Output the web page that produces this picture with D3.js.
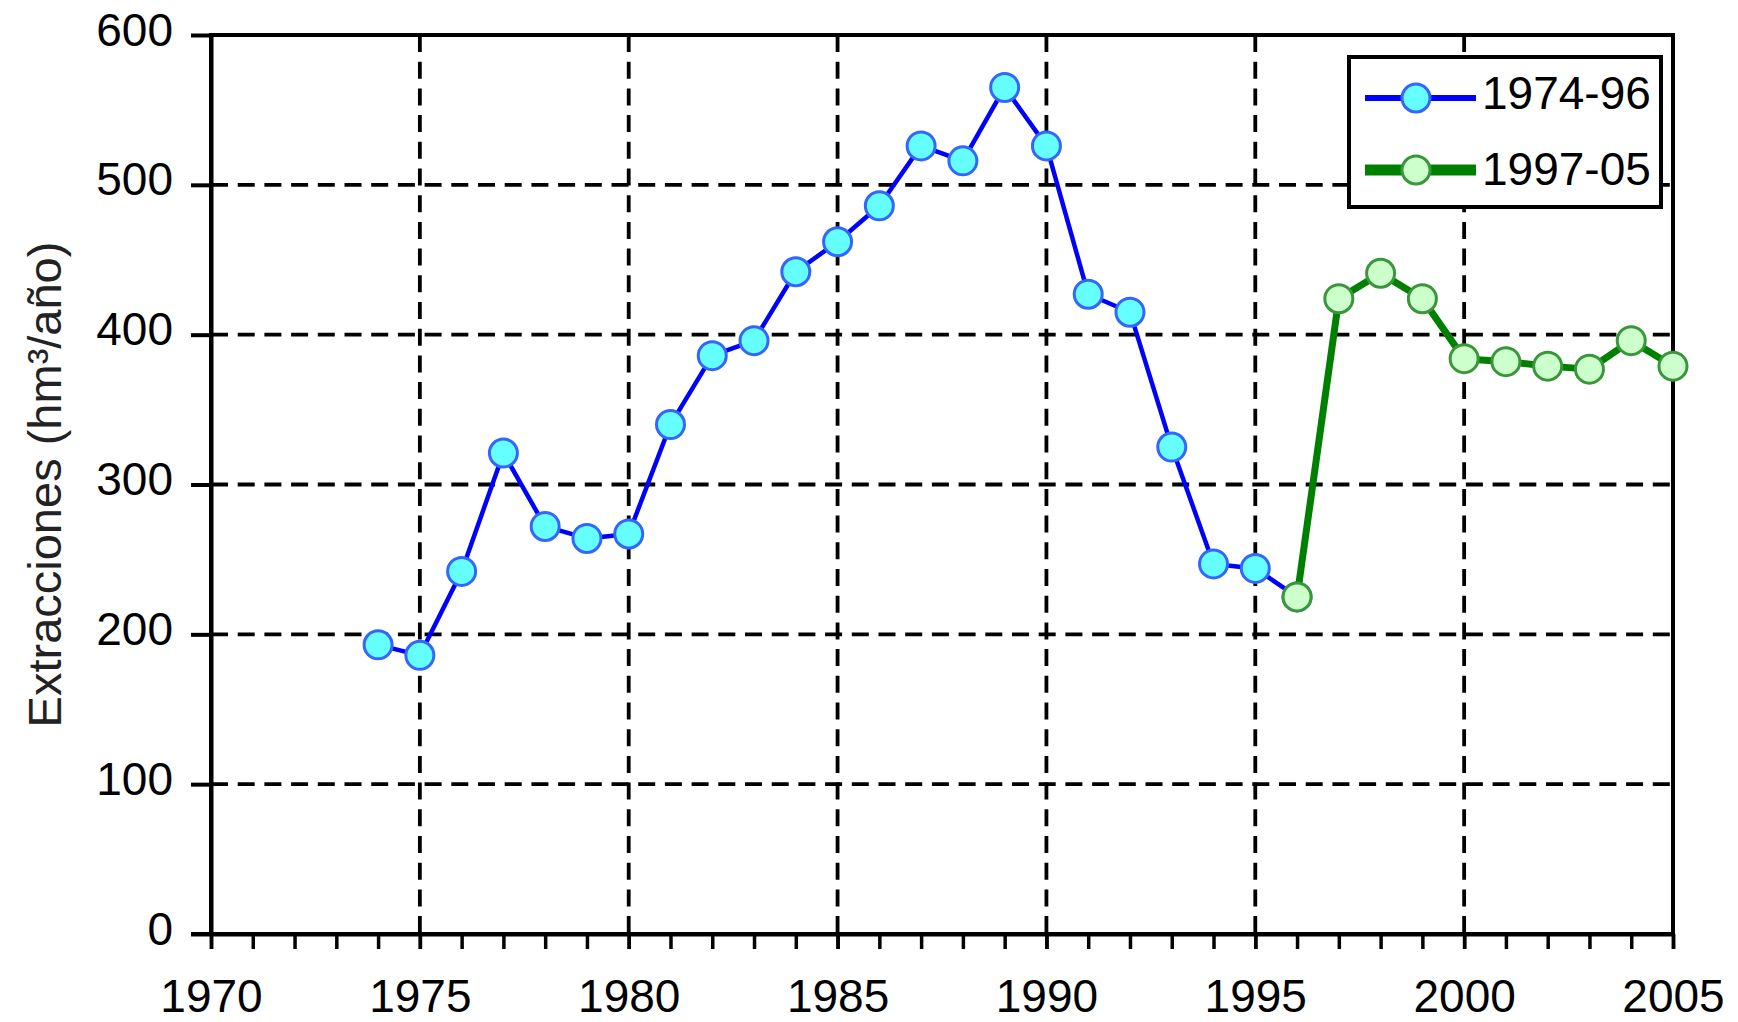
<!DOCTYPE html>
<html>
<head>
<meta charset="utf-8">
<script src="https://cdn.jsdelivr.net/npm/d3@7"></script>
<style>
  html, body { margin: 0; padding: 0; background: #fff; }
  svg { display: block; }
  text { font-family: "Liberation Sans", Arial, sans-serif; }
</style>
</head>
<body>
<svg id="chart" width="1738" height="1022"></svg>
<script>
// ---- data ----
const blueYears  = [1974,1975,1976,1977,1978,1979,1980,1981,1982,1983,1984,1985,1986,1987,1988,1989,1990,1991,1992,1993,1994,1995,1996];
const blueValues = [193, 186, 242, 321, 272, 264, 267, 340, 386, 396, 442, 462, 486, 526, 516, 565, 526, 427, 415, 325, 247, 244, 225];
const greenYears  = [1996,1997,1998,1999,2000,2001,2002,2003,2004,2005];
const greenValues = [225, 424, 441, 424, 384, 382, 379, 377, 396, 379];
const seriesNames = ["1974-96", "1997-05"];
const xTickLabels = [1970,1975,1980,1985,1990,1995,2000,2005];
const xMinorTicks = d3.range(1970, 2006, 1);
const yTickLabels = [0,100,200,300,400,500,600];
const yAxisTitle = "Extracciones (hm³/año)";

// ---- layout ----
const svg = d3.select("#chart");
const L = 211, R = 1673, T = 35, B = 934;
const x = d3.scaleLinear().domain([1970, 2005]).range([L, R]);
const y = d3.scaleLinear().domain([0, 600]).range([B, T]);
const FONT = 46;

// grid
const grid = svg.append("g");
grid.selectAll("line.h").data(yTickLabels.filter(v => v > 0 && v < 600)).join("line")
  .attr("x1", L).attr("x2", R).attr("y1", d => y(d)).attr("y2", d => y(d))
  .attr("stroke", "#000").attr("stroke-width", 3.8).attr("stroke-dasharray", "17,9.7");
grid.selectAll("line.v").data(xTickLabels.filter(v => v > 1970 && v < 2005)).join("line")
  .attr("x1", d => x(d)).attr("x2", d => x(d)).attr("y1", T).attr("y2", B)
  .attr("stroke", "#000").attr("stroke-width", 3.8).attr("stroke-dasharray", "17,9.7");

// frame
svg.append("rect").attr("x", L).attr("y", T).attr("width", R - L).attr("height", B - T)
  .attr("fill", "none").attr("stroke", "#000").attr("stroke-width", 4);

// axes
const yAxis = svg.append("g").attr("transform", `translate(${L},0)`)
  .call(d3.axisLeft(y).tickValues(yTickLabels).tickSize(20).tickSizeOuter(0).tickPadding(18).tickFormat(d3.format("d")));
yAxis.select(".domain").attr("stroke", "#000").attr("stroke-width", 4);
yAxis.selectAll(".tick line").attr("stroke", "#000").attr("stroke-width", 4);
yAxis.selectAll(".tick text").attr("font-size", FONT).attr("fill", "#000").attr("dy", "0.22em")
  .attr("font-family", "Liberation Sans, Arial, sans-serif");

const xMinor = svg.append("g").attr("transform", `translate(0,${B})`)
  .call(d3.axisBottom(x).tickValues(xMinorTicks).tickSize(15).tickSizeOuter(0).tickFormat(""));
xMinor.select(".domain").remove();
xMinor.selectAll(".tick line").attr("stroke", "#000").attr("stroke-width", 3.5);

const xAxis = svg.append("g").attr("transform", `translate(0,${B})`)
  .call(d3.axisBottom(x).tickValues(xTickLabels).tickSize(15).tickSizeOuter(0).tickPadding(30).tickFormat(d3.format("d")));
xAxis.select(".domain").attr("stroke", "#000").attr("stroke-width", 4);
xAxis.selectAll(".tick line").attr("stroke", "#000").attr("stroke-width", 3.5);
xAxis.selectAll(".tick text").attr("font-size", FONT).attr("fill", "#000")
  .attr("font-family", "Liberation Sans, Arial, sans-serif");

// extend x axis line left to meet the y tick at 0
svg.append("line").attr("x1", L - 20).attr("x2", R).attr("y1", B).attr("y2", B)
  .attr("stroke", "#000").attr("stroke-width", 4);

// y title
svg.append("text")
  .attr("transform", `translate(${61},${(T + B) / 2}) rotate(-90)`)
  .attr("text-anchor", "middle").attr("font-size", 47).attr("fill", "#222")
  .text(yAxisTitle);

// series
const line = d3.line().x(d => x(d[0])).y(d => y(d[1]));
const blueData = blueYears.map((yr, i) => [yr, blueValues[i]]);
const greenData = greenYears.map((yr, i) => [yr, greenValues[i]]);

svg.append("path").datum(blueData).attr("d", line)
  .attr("fill", "none").attr("stroke", "#0000FF").attr("stroke-width", 4.5).attr("stroke-linejoin", "round");
svg.append("g").selectAll("circle").data(blueData).join("circle")
  .attr("cx", d => x(d[0])).attr("cy", d => y(d[1])).attr("r", 14)
  .attr("fill", "#66FFFF").attr("stroke", "#3366FF").attr("stroke-width", 3);

svg.append("path").datum(greenData).attr("d", line)
  .attr("fill", "none").attr("stroke", "#008000").attr("stroke-width", 7).attr("stroke-linejoin", "round");
svg.append("g").selectAll("circle").data(greenData).join("circle")
  .attr("cx", d => x(d[0])).attr("cy", d => y(d[1])).attr("r", 14)
  .attr("fill", "#CCFFCC").attr("stroke", "#3A963A").attr("stroke-width", 3);

// legend
const lg = svg.append("g");
lg.append("rect").attr("x", 1349).attr("y", 57).attr("width", 312).attr("height", 150)
  .attr("fill", "#fff").attr("stroke", "#000").attr("stroke-width", 4);
const legendItems = [
  { name: seriesNames[0], ly: 98, ty: 109, line: "#0000FF", lw: 6, fill: "#66FFFF", stroke: "#3366FF" },
  { name: seriesNames[1], ly: 170, ty: 185, line: "#008000", lw: 11, fill: "#CCFFCC", stroke: "#3A963A" }
];
legendItems.forEach(it => {
  lg.append("line").attr("x1", 1365).attr("x2", 1476).attr("y1", it.ly).attr("y2", it.ly)
    .attr("stroke", it.line).attr("stroke-width", it.lw);
  lg.append("circle").attr("cx", 1416).attr("cy", it.ly).attr("r", 14)
    .attr("fill", it.fill).attr("stroke", it.stroke).attr("stroke-width", 3);
  lg.append("text").attr("x", 1482).attr("y", it.ty).attr("font-size", FONT).attr("fill", "#000")
    .text(it.name);
});
</script>
</body>
</html>
